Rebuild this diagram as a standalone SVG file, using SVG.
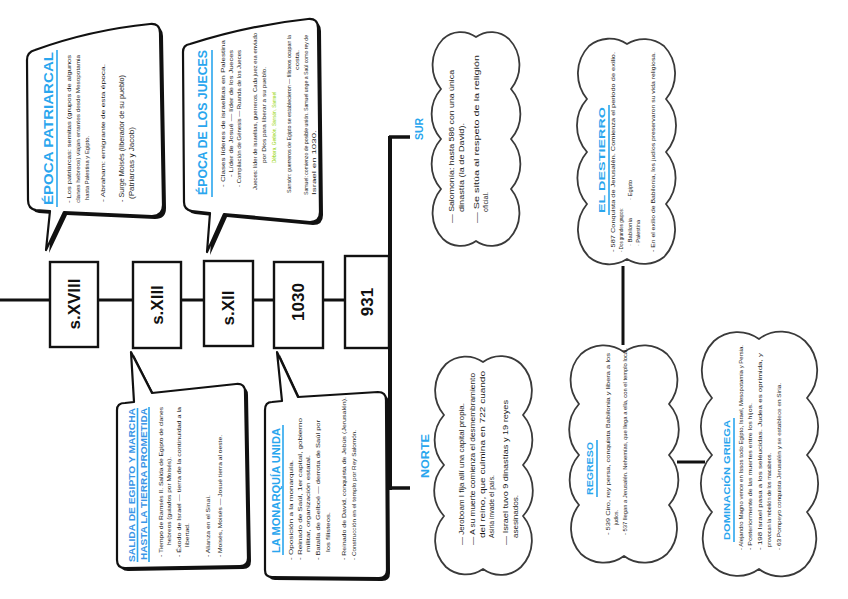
<svg xmlns="http://www.w3.org/2000/svg" width="848" height="599" viewBox="0 0 848 599">
<style>
.b{font-family:"Liberation Sans",Arial,sans-serif;font-size:6px;fill:#1c1c1c}
.b7{font-family:"Liberation Sans",Arial,sans-serif;font-size:7px;fill:#1c1c1c}
.h{font-family:"Liberation Sans",Arial,sans-serif;font-weight:bold;fill:#2aa6ee}
.lab{font-family:"Liberation Sans",Arial,sans-serif;font-weight:bold;font-size:17px;fill:#111;text-anchor:middle;dominant-baseline:central}
.ul{stroke:#2aa6ee;stroke-width:1.6}
.bub{fill:#fff;stroke:#111;stroke-width:2.2;stroke-linejoin:round}
.sh{fill:#111}
.cl{fill:#fff;stroke:#3a3a3a;stroke-width:1.8}
.box{fill:#fff;stroke:#111;stroke-width:2.4}
.ln{stroke:#111;fill:none}
.g{fill:#8fd400}
</style>
<rect width="848" height="599" fill="#fff"/>

<g id="connectors">
<line class="ln" x1="0" y1="300" x2="390" y2="300" stroke-width="3"/>
<line class="ln" x1="390" y1="136" x2="390" y2="490" stroke-width="4"/>
<line class="ln" x1="389" y1="137" x2="410" y2="137" stroke-width="3.5"/>
<line class="ln" x1="389" y1="488" x2="410" y2="488" stroke-width="3.5"/>
<line class="ln" x1="623" y1="266" x2="623" y2="345" stroke-width="3"/>
<line class="ln" x1="677" y1="462" x2="705" y2="462" stroke-width="3"/>
</g>

<g id="box-sxviii"><rect class="box" x="50" y="262" width="48" height="85" stroke-width="3.5"/><text class="lab" transform="translate(74,304) rotate(-90)" font-size="19">s.XVIII</text></g>
<g id="box-sxiii"><rect class="box" x="133" y="262" width="48" height="86"/><text class="lab" transform="translate(157,305) rotate(-90)">s.XIII</text></g>
<g id="box-sxii"><rect class="box" x="204" y="261" width="49" height="85"/><text class="lab" transform="translate(228,308) rotate(-90)">s.XII</text></g>
<g id="box-1030"><rect class="box" x="274" y="262" width="49" height="86"/><text class="lab" transform="translate(298,302) rotate(-90)">1030</text></g>
<g id="box-931"><rect class="box" x="345" y="256" width="44" height="92"/><text class="lab" transform="translate(367,302) rotate(-90)">931</text></g>

<g id="bubble-patriarcal">
<path class="sh" transform="translate(3,3)" d="M35,50 Q90,30 150,24 Q160,23 160,33 L163,205 Q163,216 152,216 L64,212 L46,250 L50,211 L36,210 Q28,209 28,200 L27,60 Q27,52 35,50 Z"/>
<path class="bub" d="M35,50 Q90,30 150,24 Q160,23 160,33 L163,205 Q163,216 152,216 L64,212 L46,250 L50,211 L36,210 Q28,209 28,200 L27,60 Q27,52 35,50 Z"/>
<line class="ul" x1="57" y1="207" x2="57" y2="50"/>
<g transform="rotate(-90)">
<text class="h" x="-205" y="53" font-size="13" textLength="153" lengthAdjust="spacingAndGlyphs">ÉPOCA PATRIARCAL</text>
<text class="b" x="-203" y="71" textLength="148" lengthAdjust="spacingAndGlyphs">- Los patriarcas: semitas (grupos de algunos</text>
<text class="b" x="-203" y="80" textLength="148" lengthAdjust="spacingAndGlyphs">clanes hebreos) viajan errantes desde Mesopotamia</text>
<text class="b" x="-200" y="89" textLength="64" lengthAdjust="spacingAndGlyphs">hasta Palestina y Egipto.</text>
<text class="b" x="-202" y="105" textLength="138" lengthAdjust="spacingAndGlyphs">- Abraham: emigrante de esta época.</text>
<text class="b7" x="-202" y="124" textLength="127" lengthAdjust="spacingAndGlyphs">- Surge Moisés (liberador de su pueblo)</text>
<text class="b7" x="-199" y="134" textLength="72" lengthAdjust="spacingAndGlyphs">(Patriarcas y Jacob)</text>
</g>
</g>

<g id="bubble-jueces">
<path class="sh" transform="translate(3,3)" d="M190,44 Q250,25 308,19 Q318,18 318,28 L320,212 Q320,222 310,222 L224,214 L207,252 L210,213 L192,211 Q184,210 184,202 L183,52 Q183,45 190,44 Z"/>
<path class="bub" d="M190,44 Q250,25 308,19 Q318,18 318,28 L320,212 Q320,222 310,222 L224,214 L207,252 L210,213 L192,211 Q184,210 184,202 L183,52 Q183,45 190,44 Z"/>
<line class="ul" x1="212" y1="197" x2="212" y2="50"/>
<g transform="rotate(-90)">
<text class="h" x="-195" y="207" font-size="13" textLength="145" lengthAdjust="spacingAndGlyphs">ÉPOCA DE LOS JUECES</text>
<text class="b" x="-187" y="225" textLength="147" lengthAdjust="spacingAndGlyphs">- Clases líderes de israelitas en Palestina</text>
<text class="b" x="-177" y="233" textLength="127" lengthAdjust="spacingAndGlyphs">- Líder de Josué — líder de los Jueces</text>
<text class="b" x="-187" y="241" textLength="137" lengthAdjust="spacingAndGlyphs">- Compilación de Génesis — Ruanda de los Jueces</text>
<text class="b" x="-190" y="257" textLength="157" lengthAdjust="spacingAndGlyphs">Jueces: líder de israelitas, guerreros. Cada juez era enviado</text>
<text class="b" x="-163" y="266" textLength="96" lengthAdjust="spacingAndGlyphs">por Dios para liberar a su pueblo.</text>
<text class="b g" x="-163" y="276" font-size="5.5" textLength="71" lengthAdjust="spacingAndGlyphs">Débora, Gedeón, Sansón, Samuel</text>
<text class="b" x="-193" y="291" textLength="158" lengthAdjust="spacingAndGlyphs">Sansón: guerreros de Egipto se establecieron — filisteos ocupan la</text>
<text class="b" x="-70" y="299" textLength="20" lengthAdjust="spacingAndGlyphs">costa.</text>
<text class="b" x="-195" y="308" textLength="160" lengthAdjust="spacingAndGlyphs">Samuel: comienzo de posible unión. Samuel unge a Saúl como rey de</text>
<text class="b" x="-195" y="316" textLength="65" lengthAdjust="spacingAndGlyphs">Israel en 1030.</text>
</g>
</g>

<g id="bubble-salida">
<path class="sh" transform="translate(3,3)" d="M125,403 L134,402 L131,352 L152,393 L236,384 Q245,383 245,392 L248,558 Q248,566 240,566 L125,568 Q117,568 117,560 L117,410 Q117,403 125,403 Z"/>
<path class="bub" d="M125,403 L134,402 L131,352 L152,393 L236,384 Q245,383 245,392 L248,558 Q248,566 240,566 L125,568 Q117,568 117,560 L117,410 Q117,403 125,403 Z"/>
<line class="ul" x1="137.5" y1="562" x2="137.5" y2="408" stroke="#3a95e6" stroke-width="1"/>
<line class="ul" x1="149" y1="562" x2="149" y2="407" stroke="#3a95e6"/>
<g transform="rotate(-90)">
<text class="h" x="-562" y="135" font-size="9" style="fill:#3a95e6" textLength="154" lengthAdjust="spacingAndGlyphs">SALIDA DE EGIPTO Y MARCHA</text>
<text class="h" x="-560" y="146.5" font-size="9" style="fill:#3a95e6" textLength="152" lengthAdjust="spacingAndGlyphs">HASTA LA TIERRA PROMETIDA</text>
<text class="b" x="-557" y="163" textLength="150" lengthAdjust="spacingAndGlyphs">- Tiempo de Ramsés II. Salida de Egipto de clanes</text>
<text class="b" x="-545" y="171" textLength="88" lengthAdjust="spacingAndGlyphs">hebreos (guiados por Moisés).</text>
<text class="b" x="-557" y="181" textLength="150" lengthAdjust="spacingAndGlyphs">- Éxodo de Israel — tierra de la continuidad a la</text>
<text class="b" x="-547" y="189" textLength="24" lengthAdjust="spacingAndGlyphs">libertad.</text>
<text class="b" x="-557" y="210" textLength="62" lengthAdjust="spacingAndGlyphs">- Alianza en el Sinaí.</text>
<text class="b" x="-557" y="222" textLength="122" lengthAdjust="spacingAndGlyphs">- Moisés, Moisés — Josué tierra al oeste.</text>
</g>
</g>

<g id="bubble-monarquia">
<path class="sh" transform="translate(3,3)" d="M272,402 L282,401 L277,352 L298,397 L378,392 Q386,392 386,400 L387,570 Q387,578 379,578 L272,577 Q265,577 265,570 L265,410 Q265,402 272,402 Z"/>
<path class="bub" d="M272,402 L282,401 L277,352 L298,397 L378,392 Q386,392 386,400 L387,570 Q387,578 379,578 L272,577 Q265,577 265,570 L265,410 Q265,402 272,402 Z"/>
<line class="ul" x1="283" y1="555" x2="283" y2="425"/>
<g transform="rotate(-90)">
<text class="h" x="-553" y="280" font-size="10" textLength="125" lengthAdjust="spacingAndGlyphs">LA MONARQUÍA UNIDA</text>
<text class="b" x="-560" y="293" textLength="100" lengthAdjust="spacingAndGlyphs">- Oposición a la monarquía.</text>
<text class="b" x="-560" y="302" textLength="142" lengthAdjust="spacingAndGlyphs">- Reinado de Saúl, 1er capital, gobierno</text>
<text class="b" x="-552" y="310" textLength="97" lengthAdjust="spacingAndGlyphs">militar, organización estatal.</text>
<text class="b" x="-560" y="320" textLength="140" lengthAdjust="spacingAndGlyphs">- Batalla de Gelboé — derrota de Saúl por</text>
<text class="b" x="-552" y="330" textLength="40" lengthAdjust="spacingAndGlyphs">los filisteos.</text>
<text class="b" x="-560" y="346" textLength="163" lengthAdjust="spacingAndGlyphs">- Reinado de David, conquista de Jebús (Jerusalén).</text>
<text class="b" x="-560" y="356" textLength="130" lengthAdjust="spacingAndGlyphs">- Construcción en el templo por Rey Salomón.</text>
</g>
</g>

<g id="label-sur"><text class="h" transform="rotate(-90)" x="-140" y="423" font-size="10" textLength="22" lengthAdjust="spacingAndGlyphs">SUR</text></g>
<g id="label-norte"><text class="h" transform="rotate(-90)" x="-478" y="429" font-size="10" textLength="44" lengthAdjust="spacingAndGlyphs">NORTE</text></g>

<g id="cloud-sur">
<path class="cl" d="M443,39 A26,26 0 0 1 476,37 A26,26 0 0 1 509,39 A38,38 0 0 1 511,89 A38,38 0 0 1 511,139 A38,38 0 0 1 511,189 A38,38 0 0 1 509,239 A26,26 0 0 1 476,241 A26,26 0 0 1 443,239 A38,38 0 0 1 441,189 A38,38 0 0 1 441,139 A38,38 0 0 1 441,89 A38,38 0 0 1 443,39 Z"/>
<g transform="rotate(-90)">
<text class="b7" x="-223" y="454" textLength="153" lengthAdjust="spacingAndGlyphs">— Salomonía: hasta 586 con una única</text>
<text class="b7" x="-212" y="464" textLength="89" lengthAdjust="spacingAndGlyphs">dinastía (la de David).</text>
<text class="b7" x="-223" y="479" textLength="168" lengthAdjust="spacingAndGlyphs">— Se sitúa al respeto de la religión</text>
<text class="b7" x="-212" y="488" textLength="20" lengthAdjust="spacingAndGlyphs">oficial.</text>
</g>
</g>

<g id="cloud-norte">
<path class="cl" d="M446,364 A30,30 0 0 1 483,362 A30,30 0 0 1 521,364 A38,38 0 0 1 523,415 A38,38 0 0 1 523,465 A38,38 0 0 1 523,516 A38,38 0 0 1 521,567 A30,30 0 0 1 483,569 A30,30 0 0 1 446,567 A38,38 0 0 1 444,516 A38,38 0 0 1 444,465 A38,38 0 0 1 444,415 A38,38 0 0 1 446,364 Z"/>
<g transform="rotate(-90)">
<text class="b7" x="-545" y="464" textLength="142" lengthAdjust="spacingAndGlyphs">— Jeroboam I fija allí una capital propia.</text>
<text class="b7" x="-545" y="475" textLength="172" lengthAdjust="spacingAndGlyphs">— A su muerte comienza el desmembramiento</text>
<text class="b7" x="-538" y="485" textLength="167" lengthAdjust="spacingAndGlyphs">del reino, que culmina en 722 cuando</text>
<text class="b7" x="-538" y="494" textLength="63" lengthAdjust="spacingAndGlyphs">Asiria invade el país.</text>
<text class="b7" x="-545" y="508" textLength="145" lengthAdjust="spacingAndGlyphs">— Israel tuvo 9 dinastías y 19 reyes</text>
<text class="b7" x="-538" y="518" textLength="43" lengthAdjust="spacingAndGlyphs">asesinados.</text>
</g>
</g>

<g id="cloud-destierro">
<path class="cl" d="M589,46 A32,32 0 0 1 627,44 A32,32 0 0 1 664,46 A40,40 0 0 1 666,99 A40,40 0 0 1 666,152 A40,40 0 0 1 666,204 A40,40 0 0 1 664,257 A32,32 0 0 1 627,259 A32,32 0 0 1 589,257 A40,40 0 0 1 587,204 A40,40 0 0 1 587,152 A40,40 0 0 1 587,99 A40,40 0 0 1 589,46 Z"/>
<line class="ul" x1="609" y1="215" x2="609" y2="105"/>
<g transform="rotate(-90)">
<text class="h" x="-213" y="605" font-size="9" textLength="106" lengthAdjust="spacingAndGlyphs">EL DESTIERRO</text>
<text class="b" x="-252" y="615" font-size="5.5" textLength="200" lengthAdjust="spacingAndGlyphs">- 587 Conquista de Jerusalén. Comienza el periodo de exilio.</text>
<text class="b" x="-252" y="623" font-size="5.5" textLength="44" lengthAdjust="spacingAndGlyphs">- Dos grandes grupos:</text>
<text class="b" x="-246" y="632" font-size="5.5" textLength="28" lengthAdjust="spacingAndGlyphs">· Babilonia</text>
<text class="b" x="-200" y="632" font-size="5.5" textLength="20" lengthAdjust="spacingAndGlyphs">· Egipto</text>
<text class="b" x="-246" y="640" font-size="5.5" textLength="26" lengthAdjust="spacingAndGlyphs">· Palestina</text>
<text class="b" x="-252" y="655" font-size="5.5" textLength="200" lengthAdjust="spacingAndGlyphs">- En el exilio de Babilonia, los judíos preservaron su vida religiosa.</text>
</g>
</g>

<g id="cloud-regreso">
<path class="cl" d="M581,354 A34,34 0 0 1 624,352 A34,34 0 0 1 667,354 A38,38 0 0 1 669,404 A38,38 0 0 1 669,455 A38,38 0 0 1 669,505 A38,38 0 0 1 667,554 A34,34 0 0 1 624,556 A34,34 0 0 1 581,554 A38,38 0 0 1 579,505 A38,38 0 0 1 579,455 A38,38 0 0 1 579,404 A38,38 0 0 1 581,354 Z"/>
<line class="ul" x1="597" y1="497" x2="597" y2="440"/>
<g transform="rotate(-90)">
<text class="h" x="-495" y="593" font-size="9" textLength="53" lengthAdjust="spacingAndGlyphs">REGRESO</text>
<text class="b" x="-535" y="610" font-size="5.5" textLength="182" lengthAdjust="spacingAndGlyphs">- 539 Ciro, rey persa, conquista Babilonia y libera a los</text>
<text class="b" x="-525" y="618" font-size="5.5" textLength="15" lengthAdjust="spacingAndGlyphs">judíos.</text>
<text class="b" x="-535" y="627" font-size="5.5" textLength="187" lengthAdjust="spacingAndGlyphs">- 537 llegan a Jerusalén. Nehemías, que llega a ella, con el templo local.</text>
</g>
</g>

<g id="cloud-dominacion">
<path class="cl" d="M714,341 A36,36 0 0 1 759,339 A36,36 0 0 1 805,341 A42,42 0 0 1 807,398 A42,42 0 0 1 807,455 A42,42 0 0 1 807,512 A42,42 0 0 1 805,567 A36,36 0 0 1 759,569 A36,36 0 0 1 714,567 A42,42 0 0 1 712,512 A42,42 0 0 1 712,455 A42,42 0 0 1 712,398 A42,42 0 0 1 714,341 Z"/>
<line class="ul" x1="734" y1="542" x2="734" y2="418"/>
<g transform="rotate(-90)">
<text class="h" x="-540" y="730" font-size="9" textLength="120" lengthAdjust="spacingAndGlyphs">DOMINACIÓN   GRIEGA</text>
<text class="b" x="-550" y="743" font-size="5.5" textLength="205" lengthAdjust="spacingAndGlyphs">- Alejandro Magno vence en Issos todo Egipto, Israel, Mesopotamia y Persia.</text>
<text class="b" x="-550" y="752" font-size="5.5" textLength="147" lengthAdjust="spacingAndGlyphs">- Posteriormente de las muertes entre los hijos.</text>
<text class="b" x="-550" y="762" font-size="5.5" textLength="197" lengthAdjust="spacingAndGlyphs">- 198 Israel pasa a los seléucidas. Judea es oprimida, y</text>
<text class="b" x="-547" y="771" font-size="5.5" textLength="94" lengthAdjust="spacingAndGlyphs">provocan la rebelión de los macabeos.</text>
<text class="b" x="-550" y="781" font-size="5.5" textLength="167" lengthAdjust="spacingAndGlyphs">- 63 Pompeyo conquista Jerusalén y se establece en Siria.</text>
</g>
</g>
</svg>
